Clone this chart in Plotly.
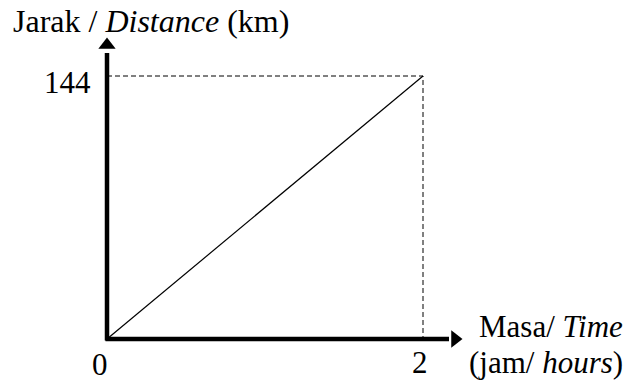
import plotly.graph_objects as go

# Distance-time data
time_h = [0, 2]
distance_km = [0, 144]
x_ticks = [0, 2]
y_ticks = [144]

W, H = 626, 385
# pixel placement of the origin and the scale (px per unit)
ox, oy = 107, 339
sx = 158.0          # px per hour
sy = 263.0 / 144.0  # px per km

x_range = [-ox / sx, (W - ox) / sx]
y_range = [-(H - oy) / sy, oy / sy]

FONT = "Liberation Serif, Times New Roman, serif"

fig = go.Figure()

# main distance-time line
fig.add_trace(go.Scatter(x=time_h, y=distance_km, mode="lines",
                         line=dict(color="black", width=1.2),
                         hoverinfo="skip", showlegend=False))

# dashed guides to the end point
fig.add_trace(go.Scatter(x=[0, time_h[-1], time_h[-1]],
                         y=[distance_km[-1], distance_km[-1], 0],
                         mode="lines",
                         line=dict(color="black", width=1, dash="5px,3px"),
                         hoverinfo="skip", showlegend=False))

# axes
ytop = (oy - 53) / sy
xend = (449 - ox) / sx
fig.add_trace(go.Scatter(x=[0, 0], y=[-1.5 / sy, ytop], mode="lines",
                         line=dict(color="black", width=4.5),
                         hoverinfo="skip", showlegend=False))
fig.add_trace(go.Scatter(x=[-1.5 / sx, xend], y=[0, 0], mode="lines",
                         line=dict(color="black", width=4.5),
                         hoverinfo="skip", showlegend=False))
# arrow heads
fig.add_trace(go.Scatter(x=[0], y=[(oy - 45) / sy], mode="markers",
                         marker=dict(symbol="triangle-up", size=15, color="black",
                                     line=dict(width=0)),
                         hoverinfo="skip", showlegend=False))
fig.add_trace(go.Scatter(x=[(455 - ox) / sx], y=[0], mode="markers",
                         marker=dict(symbol="triangle-right", size=15, color="black",
                                     line=dict(width=0)),
                         hoverinfo="skip", showlegend=False))

ann = []
# tick labels
ann.append(dict(x=x_ticks[0], y=0, text=str(x_ticks[0]), xref="x", yref="y",
                showarrow=False, xshift=-7, yshift=-25,
                font=dict(family=FONT, size=31, color="black")))
ann.append(dict(x=x_ticks[1], y=0, text=str(x_ticks[1]), xref="x", yref="y",
                showarrow=False, xshift=-3, yshift=-23,
                font=dict(family=FONT, size=31, color="black")))
ann.append(dict(x=0, y=y_ticks[0], text=str(y_ticks[0]), xref="x", yref="y",
                showarrow=False, xanchor="right", xshift=-14, yshift=-6,
                font=dict(family=FONT, size=31, color="black")))
# axis titles
ann.append(dict(x=11 / W, y=1 - 21 / H, xref="paper", yref="paper",
                text="Jarak / <i>Distance</i> (km)", showarrow=False,
                xanchor="left", yanchor="middle",
                font=dict(family=FONT, size=32, color="black")))
ann.append(dict(x=624 / W, y=1 - 326 / H, xref="paper", yref="paper",
                text="Masa/ <i>Time</i>", showarrow=False,
                xanchor="right", yanchor="middle", borderpad=0,
                font=dict(family=FONT, size=31, color="black")))
ann.append(dict(x=624 / W, y=1 - 362 / H, xref="paper", yref="paper",
                text="(jam/ <i>hours</i>)", showarrow=False,
                xanchor="right", yanchor="middle", borderpad=0,
                font=dict(family=FONT, size=31, color="black")))

fig.update_layout(
    width=W, height=H,
    margin=dict(l=0, r=0, t=0, b=0),
    paper_bgcolor="white", plot_bgcolor="white",
    xaxis=dict(range=x_range, visible=False, fixedrange=True),
    yaxis=dict(range=y_range, visible=False, fixedrange=True),
    annotations=ann,
    showlegend=False,
)

fig.write_html("out.html")
